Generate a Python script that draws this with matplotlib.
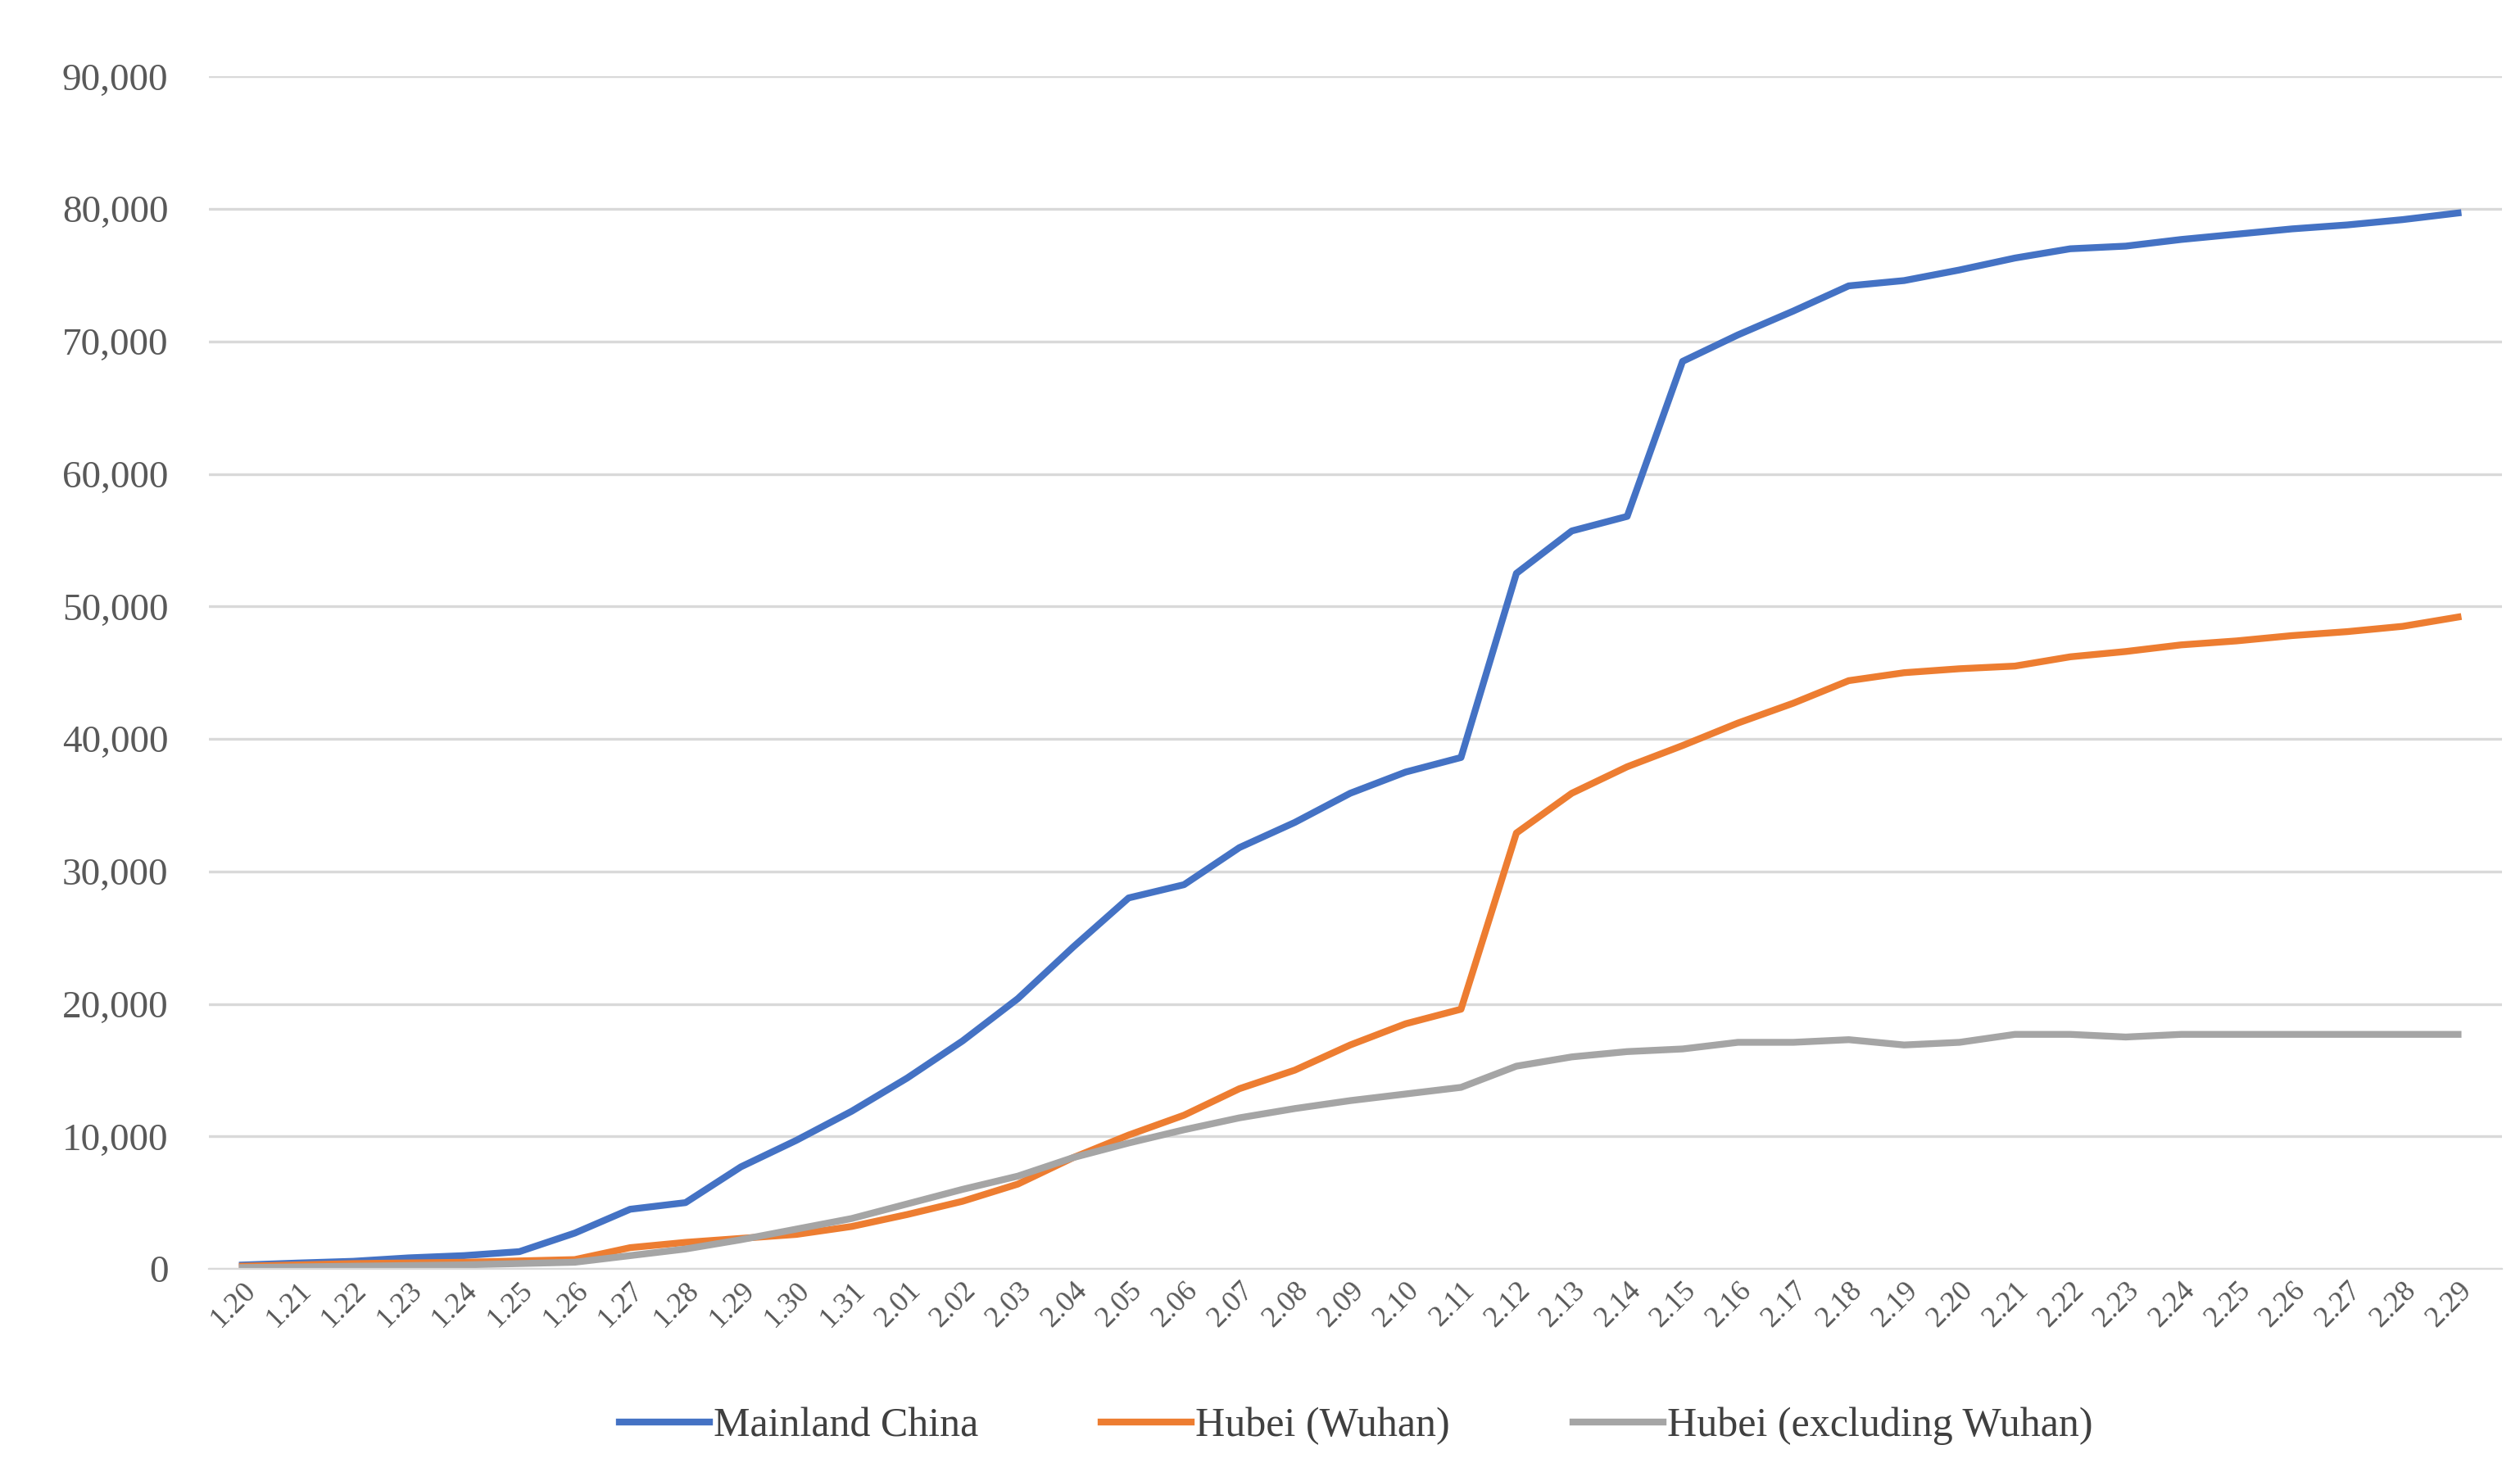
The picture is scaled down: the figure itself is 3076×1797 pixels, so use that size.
import matplotlib.pyplot as plt
from matplotlib.ticker import FuncFormatter

dates = ['1.%d' % d for d in range(20, 32)] + ['2.%02d' % d for d in range(1, 30)]

mainland = [291, 440, 571, 830, 1000, 1300, 2700, 4500, 5000, 7700, 9700, 11900,
            14400, 17200, 20400, 24300, 28000, 29000, 31800, 33700, 35900, 37500, 38600,
            52500, 55700, 56800, 68500, 70500, 72300, 74200, 74600, 75400, 76300, 77000,
            77200, 77700, 78100, 78500, 78800, 79200, 79700]
wuhan = [200, 300, 400, 450, 500, 600, 700, 1600, 2000, 2300, 2600, 3200,
         4100, 5100, 6400, 8400, 10100, 11600, 13600, 15000, 16900, 18500, 19600,
         32900, 35900, 37900, 39500, 41200, 42700, 44400, 45000, 45300, 45500, 46200,
         46600, 47100, 47400, 47800, 48100, 48500, 49200]
hubei_ex = [100, 150, 200, 250, 300, 400, 500, 1000, 1500, 2200, 3000, 3800,
            4900, 6000, 7000, 8400, 9500, 10500, 11400, 12100, 12700, 13200, 13700,
            15300, 16000, 16400, 16600, 17100, 17100, 17300, 16900, 17100, 17700, 17700,
            17500, 17700, 17700, 17700, 17700, 17700, 17700]

plt.rcParams['font.family'] = ['Liberation Serif', 'DejaVu Serif']
fig = plt.figure(figsize=(15.38, 8.985), dpi=200)
ax = fig.add_axes([0.083, 0.138, 0.91, 0.81])

x = range(len(dates))
ax.plot(x, mainland, color='#4472C4', lw=3, label='Mainland China')
ax.plot(x, wuhan, color='#ED7D31', lw=3, label='Hubei (Wuhan)')
ax.plot(x, hubei_ex, color='#A5A5A5', lw=3, label='Hubei (excluding Wuhan)')

ax.set_ylim(0, 90000)
ax.set_yticks(range(0, 90001, 10000))
ax.yaxis.set_major_formatter(FuncFormatter(lambda v, p: '{:,.0f}'.format(v)))
ax.set_xlim(-0.6, len(dates) - 0.2)
ax.set_xticks(list(x))
ax.set_xticklabels(dates, rotation=45, ha='right', rotation_mode='anchor')
ax.grid(axis='y', color='#D9D9D9', lw=1.2)
ax.set_axisbelow(True)
for s in ax.spines.values():
    s.set_visible(False)
ax.spines['bottom'].set_visible(True)
ax.spines['bottom'].set_color('#D9D9D9')
ax.tick_params(length=0, colors='#595959', labelsize=13)
ax.tick_params(axis='y', labelsize=17, pad=18)

ax.legend(loc='upper center', bbox_to_anchor=(0.5, -0.085), ncol=3, frameon=False,
          fontsize=18, handlelength=2.2, handletextpad=0.1, columnspacing=3,
          labelcolor='#404040')

fig.savefig('out.png', dpi=200)
